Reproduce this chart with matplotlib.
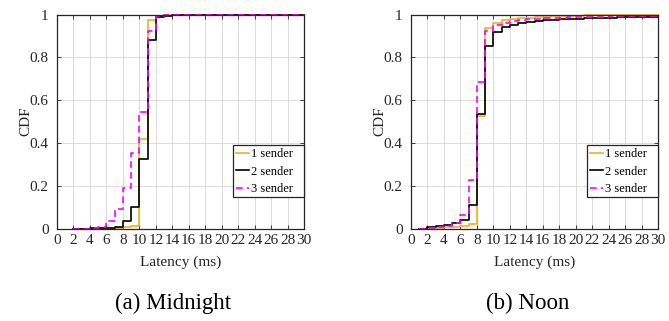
import matplotlib
matplotlib.use("Agg")
import matplotlib.pyplot as plt
from matplotlib.patches import Rectangle

plt.rcParams['font.family'] = ['Liberation Serif', 'DejaVu Serif']

series_names = ["1 sender", "2 sender", "3 sender"]

# Midnight (latency in ms, CDF value after each integer step)
mid_x = list(range(2, 31))
mid_1 = [0, 0, 0, 0, 0, 0.001, 0.005, 0.012, 0.42, 0.975, 0.995, 0.998, 0.999, 1, 1,
         1, 1, 1, 1, 1, 1, 1, 1, 1, 1, 1, 1, 1, 1]
mid_2 = [0, 0, 0.001, 0.002, 0.004, 0.006, 0.036, 0.10, 0.325, 0.88, 0.99, 0.995, 0.997,
         0.998, 0.999, 1, 1, 1, 1, 1, 1, 1, 1, 1, 1, 1, 1, 1, 1]
mid_3 = [0, 0, 0.001, 0.005, 0.035, 0.093, 0.19, 0.355, 0.545, 0.925, 0.995, 0.997, 0.998,
         0.999, 1, 1, 1, 1, 1, 1, 1, 1, 1, 1, 1, 1, 1, 1, 1]

# Noon
noon_x = list(range(1, 31))
noon_1 = [0, 0.002, 0.003, 0.005, 0.008, 0.012, 0.02, 0.525, 0.935, 0.96, 0.972, 0.978,
          0.982, 0.985, 0.988, 0.99, 0.992, 0.993, 0.994, 0.995, 0.996, 0.997, 0.997,
          0.998, 0.998, 0.999, 0.999, 0.999, 1, 1]
noon_2 = [0, 0.005, 0.012, 0.015, 0.025, 0.04, 0.11, 0.535, 0.855, 0.92, 0.94, 0.953,
          0.962, 0.967, 0.971, 0.974, 0.976, 0.978, 0.98, 0.981, 0.982, 0.983, 0.984,
          0.985, 0.986, 0.987, 0.988, 0.989, 0.99, 0.99]
noon_3 = [0, 0.004, 0.008, 0.012, 0.025, 0.065, 0.225, 0.685, 0.925, 0.95, 0.96, 0.968,
          0.973, 0.977, 0.98, 0.982, 0.984, 0.985, 0.986, 0.987, 0.988, 0.989, 0.99,
          0.991, 0.992, 0.993, 0.994, 0.995, 0.995, 0.995]

captions = ["(a) Midnight", "(b) Noon"]
x_ticks = list(range(0, 31, 2))
y_ticks = [0, 0.2, 0.4, 0.6, 0.8, 1]
y_ticklabels = ["0", "0.2", "0.4", "0.6", "0.8", "1"]

colors = ["#EDB120", "#000000", "#FF00FF"]
styles = ["-", "-", "--"]
dark = "#262626"

W, H = 669, 321
fig = plt.figure(figsize=(W / 100, H / 100), dpi=100)

panels = [
    (57, 304, mid_x, [mid_1, mid_2, mid_3], captions[0], 173.5),
    (411, 658, noon_x, [noon_1, noon_2, noon_3], captions[1], 527.5),
]
top_px, bot_px = 14.5, 228.5

for left, right, xs, ys, cap, capx in panels:
    ax = fig.add_axes([left / W, 1 - bot_px / H, (right - left) / W, (bot_px - top_px) / H])
    for y, c, ls, name in zip(ys, colors, styles, series_names):
        kw = dict(dashes=(4, 2.5)) if ls == "--" else {}
        ax.step(xs, y, where='post', color=c, linestyle=ls, linewidth=1.2, label=name,
                clip_on=False, zorder=3, **kw)
    ax.set_xlim(0, 30)
    ax.set_ylim(0, 1)
    ax.set_xticks(x_ticks)
    ax.set_yticks(y_ticks)
    ax.set_yticklabels(y_ticklabels)
    ax.grid(True, color="#dcdcdc", linewidth=0.7)
    ax.set_axisbelow(True)
    ax.tick_params(direction='in', top=True, right=True, labelsize=11, length=3,
                   width=0.6, colors=dark, labelcolor=dark)
    ax.tick_params(axis='x', pad=4)
    ax.tick_params(axis='y', pad=6)
    for sp in ax.spines.values():
        sp.set_linewidth(0.9)
        sp.set_color(dark)
        sp.set_zorder(4)
    ax.set_xlabel("Latency (ms)", fontsize=11, labelpad=6, color=dark)
    ax.set_ylabel("CDF", fontsize=11, labelpad=-2, color=dark)
    # legend box (MATLAB style)
    x0, y0, x1, y1 = 0.7125, 0.146, 1.0, 0.389
    ax.add_patch(Rectangle((x0, y0), x1 - x0, y1 - y0, transform=ax.transAxes,
                           facecolor="white", edgecolor=dark, linewidth=0.9, zorder=5,
                           clip_on=False))
    leg = ax.legend(loc='upper left', bbox_to_anchor=(x0, y1), fontsize=9,
                    frameon=False, borderpad=0.25, labelspacing=0.42,
                    handlelength=1.05, handletextpad=0.15, borderaxespad=0)
    leg.set_zorder(6)
    fig.text(capx / W, 1 - 303 / H, cap, ha='center', va='center', fontsize=16.5)

fig.savefig("out.png", dpi=100)
